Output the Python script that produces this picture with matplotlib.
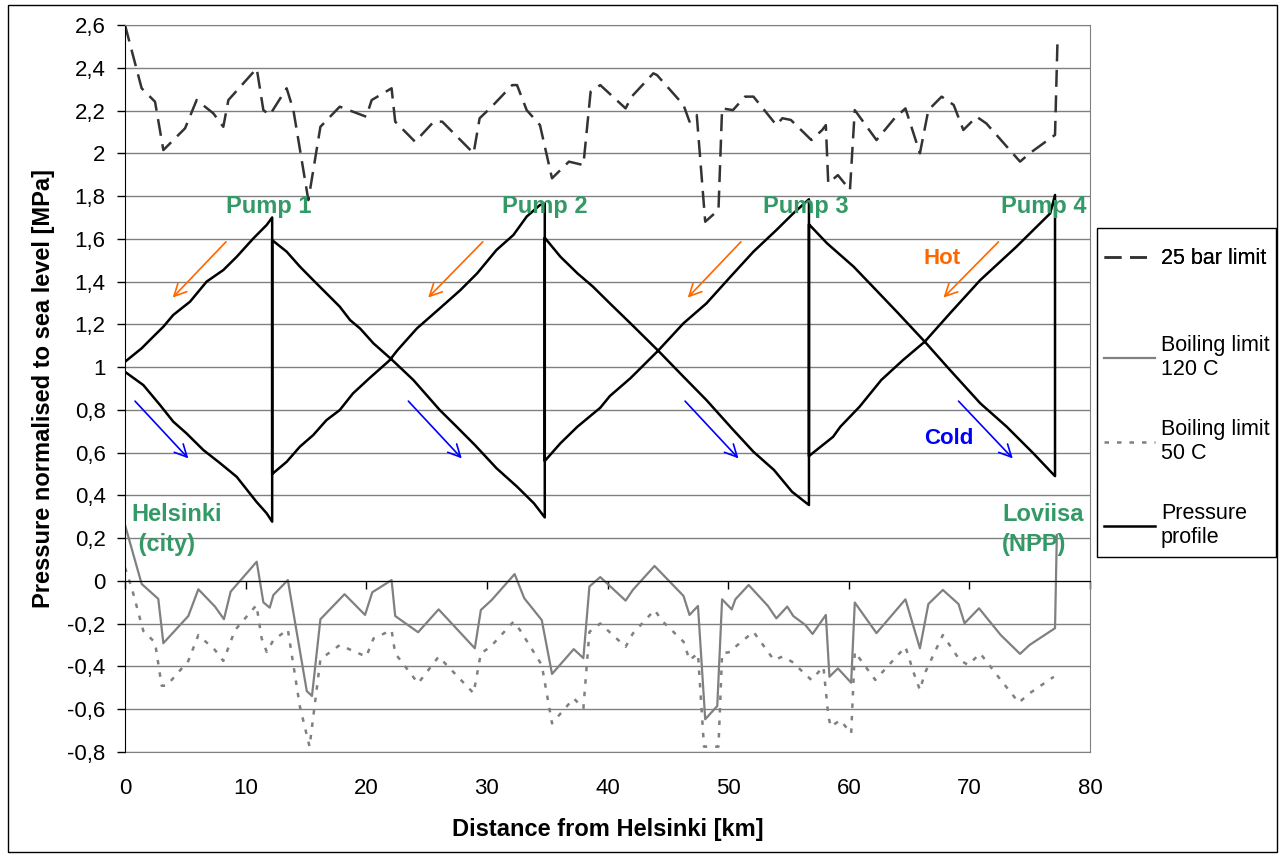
import matplotlib
matplotlib.use('Agg')
import matplotlib.pyplot as plt
import matplotlib.ticker as ticker
from matplotlib.lines import Line2D
from matplotlib.patches import Rectangle

plt.rcParams['font.family'] = ['Liberation Sans', 'DejaVu Sans']

# 25 bar limit (dashed)
bar25_km = [0, 1.38, 2.49, 3.18, 4.98, 5.94, 7.32, 8.15, 8.57, 10.92, 11.47, 12.0, 13.4, 13.96,
            15.2, 16.2, 17.8, 20.0, 20.45, 22.1, 22.4, 24.05, 25.6, 26.3, 28.9, 29.4, 30.4, 32.1,
            32.5, 33.3, 34.4, 35.4, 36.8, 38.0, 38.6, 39.4, 41.5, 42.0, 43.8, 44.1, 46.3, 46.8,
            47.4, 48.1, 49.2, 49.5, 50.4, 51.4, 52.1, 54.0, 54.5, 55.2, 56.9, 57.8, 58.1, 58.3,
            59.1, 60.1, 60.5, 62.3, 63.8, 64.7, 65.9, 66.6, 67.7, 68.7, 69.5, 70.6, 71.4, 74.2,
            75.0, 77.1, 77.3]
bar25 = [2.60, 2.304, 2.241, 2.015, 2.117, 2.249, 2.187, 2.124, 2.249, 2.397, 2.202, 2.179, 2.304,
         2.202, 1.781, 2.124, 2.218, 2.171, 2.249, 2.304, 2.148, 2.054, 2.148, 2.148, 2.0, 2.164,
         2.218, 2.319, 2.319, 2.202, 2.132, 1.883, 1.961, 1.945, 2.288, 2.319, 2.21, 2.265, 2.374,
         2.366, 2.226, 2.148, 2.179, 1.68, 1.735, 2.21, 2.202, 2.265, 2.265, 2.132, 2.164, 2.156,
         2.062, 2.109, 2.132, 1.86, 1.898, 1.828, 2.202, 2.062, 2.164, 2.21, 2.0, 2.202, 2.265,
         2.226, 2.109, 2.171, 2.14, 1.961, 2.0, 2.086, 2.514]

# Boiling limit 120 C (solid grey)
b120_km = [0, 1.38, 2.76, 3.18, 5.25, 6.08, 7.46, 8.2, 8.76, 10.92, 11.47, 12.0, 12.3, 13.5, 15.07,
           15.5, 16.2, 18.2, 19.9, 20.5, 22.1, 22.4, 24.3, 26.0, 29.0, 29.5, 30.4, 32.3, 33.1,
           34.55, 35.4, 37.2, 38.0, 38.5, 39.4, 41.5, 42.1, 43.9, 46.3, 46.8, 47.5, 48.1, 49.1,
           49.5, 50.3, 50.6, 51.7, 53.3, 54.0, 54.9, 55.4, 56.4, 57.0, 58.1, 58.4, 59.1, 60.2,
           60.5, 62.3, 64.7, 65.9, 66.6, 67.8, 69.1, 69.6, 70.8, 72.6, 74.2, 75.0, 77.1, 77.25]
b120 = [0.262, -0.014, -0.084, -0.291, -0.164, -0.039, -0.12, -0.179, -0.05, 0.09, -0.10, -0.125,
        -0.066, 0.004, -0.515, -0.538, -0.179, -0.062, -0.159, -0.053, 0.004, -0.164, -0.24,
        -0.133, -0.315, -0.136, -0.089, 0.032, -0.081, -0.183, -0.435, -0.319, -0.361, -0.026,
        0.018, -0.092, -0.042, 0.07, -0.07, -0.159, -0.117, -0.647, -0.585, -0.086, -0.133,
        -0.086, -0.019, -0.117, -0.175, -0.12, -0.164, -0.206, -0.248, -0.159, -0.448, -0.409,
        -0.476, -0.101, -0.244, -0.086, -0.315, -0.108, -0.042, -0.108, -0.198, -0.128, -0.253,
        -0.341, -0.299, -0.221, 0.215]

# Boiling limit 50 C (dotted grey)
b50_km = [0, 0.55, 1.52, 2.49, 3.04, 3.45, 5.25, 6.08, 7.46, 8.15, 9.12, 10.9, 11.33, 11.75, 12.3,
          13.5, 14.5, 15.3, 16.2, 17.8, 20.0, 20.6, 22.1, 22.4, 24.3, 26.0, 28.9, 29.5, 30.3, 32.2,
          32.75, 34.55, 35.4, 37.2, 38.0, 38.5, 39.4, 41.5, 42.1, 43.9, 44.6, 46.3, 46.8, 47.5,
          48.0, 49.2, 49.5, 50.2, 50.6, 52.1, 53.8, 54.5, 55.3, 56.9, 57.9, 58.3, 58.5, 59.3, 60.2,
          60.5, 62.2, 64.7, 65.4, 65.9, 66.3, 67.8, 69.2, 69.9, 70.9, 72.6, 74.1, 75.0, 77.0]
b50 = [0.062, -0.031, -0.234, -0.288, -0.49, -0.49, -0.374, -0.253, -0.323, -0.374, -0.23, -0.113,
       -0.269, -0.332, -0.277, -0.227, -0.588, -0.775, -0.366, -0.30, -0.354, -0.269, -0.23,
       -0.339, -0.479, -0.354, -0.525, -0.339, -0.308, -0.191, -0.23, -0.393, -0.666, -0.549,
       -0.596, -0.238, -0.199, -0.308, -0.246, -0.136, -0.191, -0.284, -0.37, -0.339, -0.775,
       -0.775, -0.339, -0.332, -0.308, -0.238, -0.37, -0.354, -0.378, -0.463, -0.401, -0.627,
       -0.682, -0.651, -0.713, -0.332, -0.463, -0.308, -0.432, -0.51, -0.432, -0.253, -0.37,
       -0.393, -0.339, -0.463, -0.569, -0.525, -0.448]

# Pressure profile: supply (cold) line out to Loviisa, then return (hot) line back
profile_km = [0, 1.52, 2.9, 4.0, 5.1, 6.5, 7.9, 9.26, 10.9, 11.75, 12.2,
              12.2, 13.4, 14.5, 15.6, 16.7, 17.8, 18.66, 19.5, 20.6, 22.1, 23.9, 26.1, 27.5, 29.0,
              30.8, 32.5, 33.9, 34.8,
              34.8, 36.1, 37.5, 38.8, 40.2, 41.9, 44.2, 46.3, 48.2, 50.3, 52.1, 53.8, 55.3, 56.7,
              56.7, 58.2, 60.4, 62.0, 64.1, 66.3, 68.4, 70.9, 73.1, 75.3, 77.1,
              77.1, 76.7, 73.9, 70.9, 68.4, 66.3, 64.5, 62.7, 60.9, 59.3, 58.7, 56.7,
              56.7, 55.4, 54.0, 52.1, 50.2, 48.2, 46.3, 44.2, 41.9, 40.2, 39.4, 37.5, 36.1, 34.8,
              34.8, 34.4, 33.3, 32.2, 30.8, 29.2, 27.8, 26.1, 24.2, 22.6, 21.9, 20.3, 18.9, 17.8,
              16.7, 15.6, 14.5, 13.4, 12.2,
              12.2, 11.75, 10.64, 9.26, 8.15, 6.77, 5.39, 4.0, 3.18, 2.21, 1.38, 0]
profile_mpa = [0.978, 0.916, 0.823, 0.745, 0.690, 0.612, 0.550, 0.487, 0.370, 0.316, 0.277,
               1.594, 1.54, 1.47, 1.407, 1.345, 1.283, 1.22, 1.180, 1.111, 1.036, 0.940, 0.799,
               0.721, 0.636, 0.527, 0.441, 0.363, 0.297,
               1.605, 1.516, 1.439, 1.376, 1.298, 1.205, 1.077, 0.955, 0.846, 0.714, 0.604, 0.519,
               0.417, 0.355,
               1.668, 1.579, 1.47, 1.376, 1.252, 1.119, 0.986, 0.831, 0.721, 0.597, 0.49,
               1.805, 1.719, 1.563, 1.407, 1.252, 1.119, 1.033, 0.940, 0.815, 0.721, 0.674, 0.584,
               1.785, 1.719, 1.641, 1.54, 1.423, 1.298, 1.205, 1.077, 0.948, 0.865, 0.81, 0.721,
               0.644, 0.561,
               1.766, 1.758, 1.704, 1.618, 1.548, 1.439, 1.36, 1.275, 1.181, 1.08, 1.03, 0.95,
               0.877, 0.799, 0.752, 0.682, 0.628, 0.557, 0.50,
               1.70, 1.665, 1.602, 1.516, 1.454, 1.40, 1.306, 1.244, 1.189, 1.135, 1.088, 1.025]

pump_labels = ['Pump 1', 'Pump 2', 'Pump 3', 'Pump 4']
pump_km = [11.9, 34.8, 56.4, 76.2]
hot_arrows = [(8.37, 3.95), (29.66, 25.13), (51.06, 46.65), (72.41, 67.85)]
cold_arrows = [(0.83, 5.25), (23.49, 27.92), (46.43, 50.86), (69.1, 73.6)]

GREEN = '#339966'
W, H = 1282, 856

fig = plt.figure(figsize=(W / 100, H / 100), dpi=100)
ax = fig.add_axes([125 / W, 1 - 752 / H, 965 / W, 727 / H])

ax.plot(bar25_km, bar25, color='#333333', lw=1.8, dashes=(6.8, 3.4))
ax.plot(b120_km, b120, color='#808080', lw=1.6)
ax.plot(b50_km, b50, color='#808080', lw=1.8, dashes=(1.8, 3.2))
ax.plot(profile_km, profile_mpa, color='black', lw=1.8)

ax.set_xlim(0, 80)
ax.set_ylim(-0.8, 2.6)
ax.set_yticks([round(-0.8 + 0.2 * i, 1) for i in range(18)])
ax.yaxis.set_major_formatter(ticker.FuncFormatter(
    lambda v, pos: '{:g}'.format(round(v, 1) + 0.0).replace('.', ',')))
ax.yaxis.grid(True, color='#808080', lw=1)
ax.set_axisbelow(True)

ax.spines['top'].set_color('#808080')
ax.spines['right'].set_color('#808080')
ax.spines['left'].set_color('black')
ax.spines['bottom'].set_position(('data', 0))
ax.spines['bottom'].set_color('black')
ax.set_xticks(range(0, 81, 10))
ax.tick_params(axis='x', direction='out', length=6, width=1, labelbottom=False)
ax.tick_params(axis='y', direction='out', length=6, width=1, pad=8, labelsize=16)

secax = ax.secondary_xaxis(0)
secax.set_xticks(range(0, 81, 10))
secax.tick_params(length=0, pad=19, labelsize=16)
secax.spines['bottom'].set_color('#808080')

ax.set_xlabel('Distance from Helsinki [km]', fontsize=17, fontweight='bold', va='center')
ax.xaxis.set_label_coords(0.5005, -0.107)
ax.set_ylabel('Pressure normalised to sea level [MPa]', fontsize=17, fontweight='bold', va='center')
ax.yaxis.set_label_coords(-0.084, 0.5)

for lab, km in zip(pump_labels, pump_km):
    ax.text(km, 1.749, lab, color=GREEN, fontsize=17, fontweight='bold', ha='center', va='center')

ax.text(0.55, 0.24, 'Helsinki\n (city)', color=GREEN, fontsize=17, fontweight='bold',
        ha='left', va='center', linespacing=1.35)
ax.text(72.7, 0.24, 'Loviisa\n(NPP)', color=GREEN, fontsize=17, fontweight='bold',
        ha='left', va='center', linespacing=1.35)
ax.text(67.7, 1.509, 'Hot', color='#FF6600', fontsize=16, fontweight='bold', ha='center', va='center')
ax.text(68.3, 0.667, 'Cold', color='#0000FF', fontsize=16, fontweight='bold', ha='center', va='center')

for x0, x1 in hot_arrows:
    ax.annotate('', xy=(x1, 1.325), xytext=(x0, 1.586),
                arrowprops=dict(arrowstyle='->', color='#FF6600', lw=1.2, mutation_scale=22,
                                shrinkA=0, shrinkB=0))
for x0, x1 in cold_arrows:
    ax.annotate('', xy=(x1, 0.573), xytext=(x0, 0.841),
                arrowprops=dict(arrowstyle='->', color='#0000FF', lw=1.2, mutation_scale=22,
                                shrinkA=0, shrinkB=0))

# legend: box drawn separately, entries placed in two groups to match the spacing
handles = [Line2D([], [], color='#333333', lw=1.8, dashes=(6.8, 3.4)),
           Line2D([], [], color='#808080', lw=1.6),
           Line2D([], [], color='#808080', lw=1.8, dashes=(1.8, 3.2)),
           Line2D([], [], color='black', lw=1.8)]
labels = ['25 bar limit', 'Boiling limit\n120 C', 'Boiling limit\n50 C', 'Pressure\nprofile']
leg_kw = dict(fontsize=15.5, frameon=False, handlelength=2.35, handletextpad=0.3,
              borderpad=0, borderaxespad=0)
leg1 = fig.legend(handles[:1], labels[:1], loc='center left',
                  bbox_to_anchor=(1104 / W, 1 - 259 / H), **leg_kw)
fig.add_artist(leg1)
fig.legend(handles[1:], labels[1:], loc='upper left', bbox_to_anchor=(1104 / W, 1 - 335 / H),
           labelspacing=1.8, **leg_kw)
fig.patches.append(Rectangle((1097 / W, 1 - 557 / H), 179 / W, 329 / H, transform=fig.transFigure,
                             fill=False, edgecolor='black', lw=1))

fig.patches.append(Rectangle((8 / W, 4 / H), 1269 / W, 847 / H, transform=fig.transFigure,
                             fill=False, edgecolor='black', lw=1))

fig.savefig('out.png', dpi=100)
